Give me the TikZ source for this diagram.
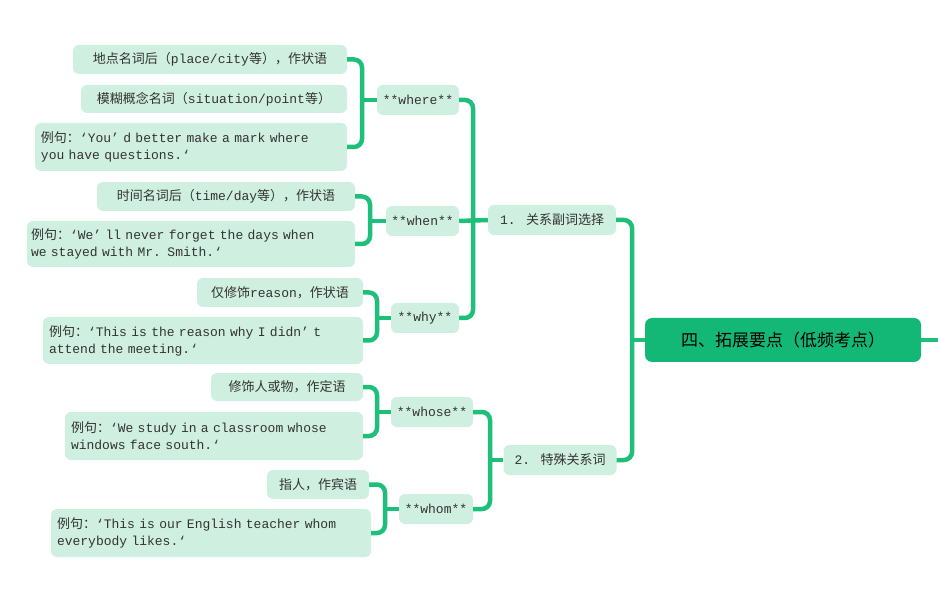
\documentclass[tikz,border=0pt]{standalone}
\usepackage{fontspec}
\setmainfont{Liberation Mono}
\newfontfamily\cjk{Noto Sans CJK SC}
\newcommand{\zh}[1]{{\cjk #1}}
\definecolor{ln}{HTML}{1DBF7A}
\definecolor{lf}{HTML}{CFEFE0}
\definecolor{rt}{HTML}{14B876}
\definecolor{tx}{HTML}{333333}
\tikzset{
 leaf/.style={fill=lf,rounded corners=6pt,inner sep=0pt,font=\fontsize{13}{17}\selectfont,text=tx,align=left},
 conn/.style={draw=ln,line width=4.5pt,rounded corners=8pt},
}
\begin{document}
\begin{tikzpicture}[x=1pt,y=-1pt]
\useasboundingbox (0,0) rectangle (938,596);
% root
\node[fill=rt,rounded corners=7pt,minimum width=276pt,minimum height=44pt,font=\cjk\fontsize{17}{20}\selectfont,text=black] (root) at (783,340) {四、拓展要点（低频考点）};
\coordinate (rx) at (938,340);
\draw[conn] (root.east) -- (rx);
% mains
\node[leaf,minimum width=128pt,minimum height=30pt] (m1) at (552,220) {1. \zh{关系副词选择}};
\node[leaf,minimum width=113pt,minimum height=30pt] (m2) at (560,460) {2. \zh{特殊关系词}};
\coordinate (b0) at (632,0);
\draw[conn] (m1.east) -- (m1.east -| b0) -- (m2.east -| b0) -- (m2.east);
\draw[conn] (b0 |- root.west) -- (root.west);
% level 2
\node[leaf,minimum width=82pt,minimum height=30pt] (where) at (418,100) {**where**};
\node[leaf,minimum width=73pt,minimum height=30pt] (when) at (422.5,221) {**when**};
\node[leaf,minimum width=68pt,minimum height=30pt] (why) at (425,318) {**why**};
\node[leaf,minimum width=82pt,minimum height=30pt] (whose) at (432,412) {**whose**};
\node[leaf,minimum width=74pt,minimum height=30pt] (whom) at (436,509) {**whom**};
\coordinate (b1) at (473,0);
\draw[conn] (where.east) -- (where.east -| b1) -- (why.east -| b1) -- (why.east);
\draw[conn] (when.east) -- (m1.west);
\coordinate (b2) at (490,0);
\draw[conn] (whose.east) -- (whose.east -| b2) -- (whom.east -| b2) -- (whom.east);
\draw[conn] (b2 |- m2.west) -- (m2.west);
% leaves where
\node[leaf,minimum width=274pt,minimum height=29pt] (a1) at (210,59.5) {\zh{地点名词后（}place/city\zh{等），作状语}};
\node[leaf,minimum width=266pt,minimum height=28pt] (a2) at (214,99) {\zh{模糊概念名词（}situation/point\zh{等）}};
\node[leaf,minimum width=312pt,minimum height=48pt,text width=300pt] (a3) at (191,147) {\zh{例句：}`You’ d better make a mark where\\you have questions.`};
\coordinate (c1) at (362,0);
\draw[conn] (a1.east) -- (a1.east -| c1) -- (a3.east -| c1) -- (a3.east);
\draw[conn] (c1 |- where.west) -- (where.west);
% when
\node[leaf,minimum width=258pt,minimum height=29pt] (e1) at (226,196.5) {\zh{时间名词后（}time/day\zh{等），作状语}};
\node[leaf,minimum width=328pt,minimum height=46pt,text width=320pt] (e2) at (191,244) {\zh{例句：}`We’ ll never forget the days when\\we stayed with Mr. Smith.`};
\coordinate (c2) at (370,0);
\draw[conn] (e1.east) -- (e1.east -| c2) -- (e2.east -| c2) -- (e2.east);
\draw[conn] (c2 |- when.west) -- (when.west);
% why
\node[leaf,minimum width=166pt,minimum height=29pt] (y1) at (280,292.5) {\zh{仅修饰}reason\zh{，作状语}};
\node[leaf,minimum width=320pt,minimum height=47pt,text width=308pt] (y2) at (203,340.5) {\zh{例句：}`This is the reason why I didn’ t\\attend the meeting.`};
\coordinate (c3) at (377,0);
\draw[conn] (y1.east) -- (y1.east -| c3) -- (y2.east -| c3) -- (y2.east);
\draw[conn] (c3 |- why.west) -- (why.west);
% whose
\node[leaf,minimum width=152pt,minimum height=28pt] (s1) at (287,387) {\zh{修饰人或物，作定语}};
\node[leaf,minimum width=298pt,minimum height=48pt,text width=286pt] (s2) at (214,436) {\zh{例句：}`We study in a classroom whose\\windows face south.`};
\coordinate (c4) at (377,0);
\draw[conn] (s1.east) -- (s1.east -| c4) -- (s2.east -| c4) -- (s2.east);
\draw[conn] (c4 |- whose.west) -- (whose.west);
% whom
\node[leaf,minimum width=102pt,minimum height=29pt] (o1) at (318,484.5) {\zh{指人，作宾语}};
\node[leaf,minimum width=320pt,minimum height=48pt,text width=308pt] (o2) at (211,533) {\zh{例句：}`This is our English teacher whom\\everybody likes.`};
\coordinate (c5) at (385,0);
\draw[conn] (o1.east) -- (o1.east -| c5) -- (o2.east -| c5) -- (o2.east);
\draw[conn] (c5 |- whom.west) -- (whom.west);
\end{tikzpicture}
\end{document}
